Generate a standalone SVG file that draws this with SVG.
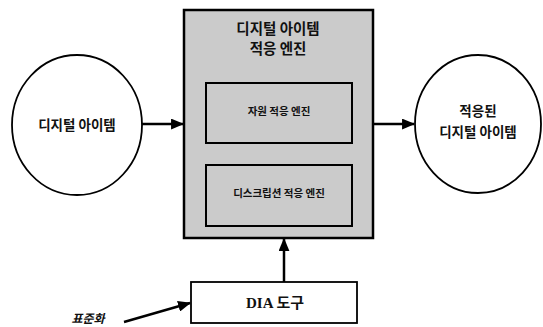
<svg xmlns="http://www.w3.org/2000/svg" width="543" height="327" viewBox="0 0 543 327">
<style>
.k{font-family:"Noto Sans CJK KR","Noto Sans",sans-serif;font-weight:bold;fill:#111;text-anchor:middle}
.ln{stroke:#000;stroke-width:2.5;fill:none}
.bx{stroke:#000;stroke-width:2;fill:none}
</style>
<defs>
<marker id="ah" viewBox="0 0 12 10" refX="11" refY="5" markerWidth="5.2" markerHeight="4.4" orient="auto" markerUnits="strokeWidth">
<path d="M0,0 L12,5 L0,10 Z" fill="#000"/>
</marker>
</defs>
<g id="engine">
<rect x="184" y="10" width="189" height="228" fill="#cbcbcb" stroke="#000" stroke-width="2.5"/>
<text class="k" x="278" y="34" font-size="14.5">디지털 아이템</text>
<text class="k" x="278" y="54" font-size="14.5">적응 엔진</text>
</g>
<g id="resource">
<rect class="bx" x="206" y="83" width="146" height="60"/>
<text class="k" x="279" y="115" font-size="10.5">자원 적응 엔진</text>
</g>
<g id="description">
<rect class="bx" x="206" y="165" width="146" height="61"/>
<text class="k" x="279" y="197" font-size="10.5">디스크립션 적응 엔진</text>
</g>
<g id="input">
<ellipse cx="77" cy="125" rx="65" ry="70" fill="#fff" stroke="#000" stroke-width="1.8"/>
<text class="k" x="77" y="130" font-size="13.5">디지털 아이템</text>
</g>
<g id="output">
<ellipse cx="478" cy="124" rx="63" ry="69" fill="#fff" stroke="#000" stroke-width="1.8"/>
<text class="k" x="478" y="116" font-size="13.5">적응된</text>
<text class="k" x="478" y="137" font-size="13.5">디지털 아이템</text>
</g>
<g id="tool">
<rect x="191" y="282" width="166" height="41" fill="#fff" stroke="#000" stroke-width="1.8"/>
<text x="275" y="308" font-size="15" font-weight="bold" text-anchor="middle" font-family="Liberation Serif,Noto Sans CJK KR,serif" fill="#111">DIA 도구</text>
</g>
<g id="standard">
<text x="88" y="323" font-size="12" font-weight="bold" font-style="italic" text-anchor="middle" font-family="Noto Sans CJK KR,sans-serif" fill="#111">표준화</text>
</g>
<g id="connectors">
<line class="ln" x1="142" y1="124" x2="183" y2="124" marker-end="url(#ah)"/>
<line class="ln" x1="373" y1="124" x2="414" y2="124" marker-end="url(#ah)"/>
<line class="ln" x1="284" y1="282" x2="284" y2="239" marker-end="url(#ah)"/>
<line class="ln" x1="124" y1="322" x2="190" y2="303" marker-end="url(#ah)"/>
</g>
</svg>
